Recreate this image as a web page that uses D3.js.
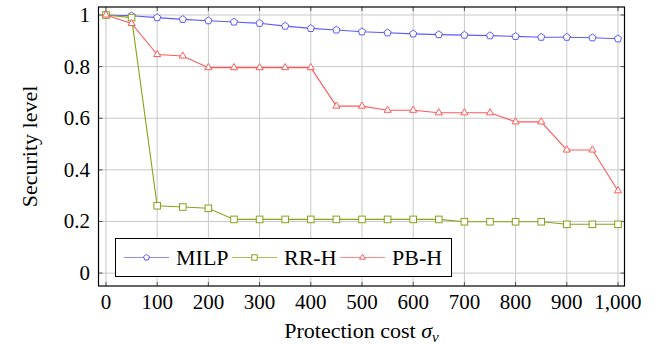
<!DOCTYPE html>
<html>
<head>
<meta charset="utf-8">
<script src="https://cdn.jsdelivr.net/npm/d3@7"></script>
<style>
  body { margin: 0; background: #fff; }
  svg { display: block; }
</style>
</head>
<body>
<div id="chart"></div>
<script>
// data
const costs = [0, 50, 100, 150, 200, 250, 300, 350, 400, 450, 500, 550, 600, 650, 700, 750, 800, 850, 900, 950, 1000];
const milp = [1.0, 0.997, 0.99, 0.983, 0.978, 0.973, 0.968, 0.957, 0.948, 0.942, 0.935, 0.931, 0.927, 0.924, 0.922, 0.92, 0.917, 0.914, 0.914, 0.912, 0.908];
const rrh  = [1.0, 0.99, 0.261, 0.256, 0.251, 0.208, 0.208, 0.208, 0.208, 0.208, 0.208, 0.208, 0.208, 0.208, 0.199, 0.199, 0.199, 0.199, 0.189, 0.189, 0.189];
const pbh  = [1.0, 0.967, 0.847, 0.841, 0.796, 0.796, 0.796, 0.796, 0.796, 0.647, 0.647, 0.631, 0.631, 0.621, 0.621, 0.621, 0.586, 0.586, 0.477, 0.477, 0.319];
const xTicks = [0, 100, 200, 300, 400, 500, 600, 700, 800, 900, 1000];
const yTicks = [0, 0.2, 0.4, 0.6, 0.8, 1];
const seriesNames = ["MILP", "RR-H", "PB-H"];

const W = 659, H = 345;
const pLeft = 98.5, pRight = 624.5, pTop = 7, pBottom = 286;
const FONT = "'Liberation Serif', 'Times New Roman', serif";

const series = [
  {name: seriesNames[0], values: milp, color: "#5b5bff", mark: "pentagon"},
  {name: seriesNames[1], values: rrh,  color: "#87a31a", mark: "square"},
  {name: seriesNames[2], values: pbh,  color: "#ff5a5a", mark: "triangle"}
];

const svg = d3.select("#chart").append("svg")
  .attr("width", W).attr("height", H)
  .attr("font-family", FONT);

const x = d3.scaleLinear().domain([-14.6, 1012.7]).range([pLeft, pRight]);
const y = d3.scaleLinear().domain([-0.05, 1.031]).range([pBottom, pTop]);

// grid
svg.append("g").selectAll("line").data(xTicks).join("line")
  .attr("x1", d => x(d)).attr("x2", d => x(d))
  .attr("y1", pTop).attr("y2", pBottom)
  .attr("stroke", "#c8c8c8").attr("stroke-width", 1);
svg.append("g").selectAll("line").data(yTicks).join("line")
  .attr("x1", pLeft).attr("x2", pRight)
  .attr("y1", d => y(d)).attr("y2", d => y(d))
  .attr("stroke", "#c8c8c8").attr("stroke-width", 1);

// inward ticks on all sides
const tk = 4;
const ticks = svg.append("g").attr("stroke", "#555").attr("stroke-width", 1);
xTicks.forEach(d => {
  ticks.append("line").attr("x1", x(d)).attr("x2", x(d)).attr("y1", pBottom).attr("y2", pBottom - tk);
  ticks.append("line").attr("x1", x(d)).attr("x2", x(d)).attr("y1", pTop).attr("y2", pTop + tk);
});
yTicks.forEach(d => {
  ticks.append("line").attr("x1", pLeft).attr("x2", pLeft + tk).attr("y1", y(d)).attr("y2", y(d));
  ticks.append("line").attr("x1", pRight).attr("x2", pRight - tk).attr("y1", y(d)).attr("y2", y(d));
});

// tick labels
svg.append("g").selectAll("text").data(xTicks).join("text")
  .attr("x", d => x(d)).attr("y", 309)
  .attr("text-anchor", "middle").attr("font-size", 21)
  .style("font-family", FONT)
  .text(d => d3.format(",")(d));
svg.append("g").selectAll("text").data(yTicks).join("text")
  .attr("x", 90).attr("y", d => y(d) + 7)
  .attr("text-anchor", "end").attr("font-size", 21)
  .style("font-family", FONT)
  .text(d => (d === 0 || d === 1) ? String(d) : d.toFixed(1));

// markers
function drawMark(g, type, cx, cy, color, s) {
  if (type === "square") {
    g.append("rect").attr("x", cx - s).attr("y", cy - s)
      .attr("width", 2 * s).attr("height", 2 * s)
      .attr("fill", "#fff").attr("stroke", color).attr("stroke-width", 1);
  } else if (type === "triangle") {
    const r = s * 1.25;
    const pts = [[cx, cy - r], [cx + r * 0.866, cy + r * 0.5], [cx - r * 0.866, cy + r * 0.5]];
    g.append("polygon").attr("points", pts.map(p => p.join(",")).join(" "))
      .attr("fill", "#fff").attr("stroke", color).attr("stroke-width", 1);
  } else {
    const r = s * 1.15;
    const pts = d3.range(5).map(i => {
      const a = -Math.PI / 2 + i * 2 * Math.PI / 5;
      return [cx + r * Math.cos(a), cy + r * Math.sin(a)];
    });
    g.append("polygon").attr("points", pts.map(p => p.join(",")).join(" "))
      .attr("fill", "#fff").attr("stroke", color).attr("stroke-width", 1);
  }
}

const line = d3.line().x(d => x(d[0])).y(d => y(d[1]));
series.forEach(s => {
  const pts = costs.map((c, i) => [c, s.values[i]]);
  svg.append("path").datum(pts)
    .attr("d", line).attr("fill", "none")
    .attr("stroke", s.color).attr("stroke-width", 1.1);
  const g = svg.append("g");
  pts.forEach(p => drawMark(g, s.mark, x(p[0]), y(p[1]), s.color, 3.3));
});

// frame
svg.append("rect").attr("x", pLeft).attr("y", pTop)
  .attr("width", pRight - pLeft).attr("height", pBottom - pTop)
  .attr("fill", "none").attr("stroke", "#000").attr("stroke-width", 1.2);

// legend
const lg = svg.append("g");
lg.append("rect").attr("x", 115.5).attr("y", 238.5).attr("width", 336).attr("height", 38)
  .attr("fill", "#fff").attr("stroke", "#000").attr("stroke-width", 1);
const legX = [124, 232, 340];
series.forEach((s, i) => {
  const lx = legX[i], ly = 257.5;
  lg.append("line").attr("x1", lx).attr("x2", lx + 45).attr("y1", ly).attr("y2", ly)
    .attr("stroke", s.color).attr("stroke-opacity", 0.7).attr("stroke-width", 1.1);
  drawMark(lg, s.mark, lx + 22.5, ly, s.color, 2.7);
  lg.append("text").attr("x", lx + 52).attr("y", ly + 7)
    .attr("font-size", 22).style("font-family", FONT).text(s.name);
});

// axis labels
svg.append("text").attr("x", (pLeft + pRight) / 2).attr("y", 338)
  .attr("text-anchor", "middle").attr("font-size", 22)
  .style("font-family", FONT)
  .html('Protection cost <tspan font-style="italic">σ</tspan><tspan font-style="italic" font-size="15" dy="4">v</tspan>');
svg.append("text").attr("transform", "translate(37," + (pTop + pBottom) / 2 + ") rotate(-90)")
  .attr("text-anchor", "middle").attr("font-size", 22)
  .style("font-family", FONT)
  .text("Security level");
</script>
</body>
</html>
